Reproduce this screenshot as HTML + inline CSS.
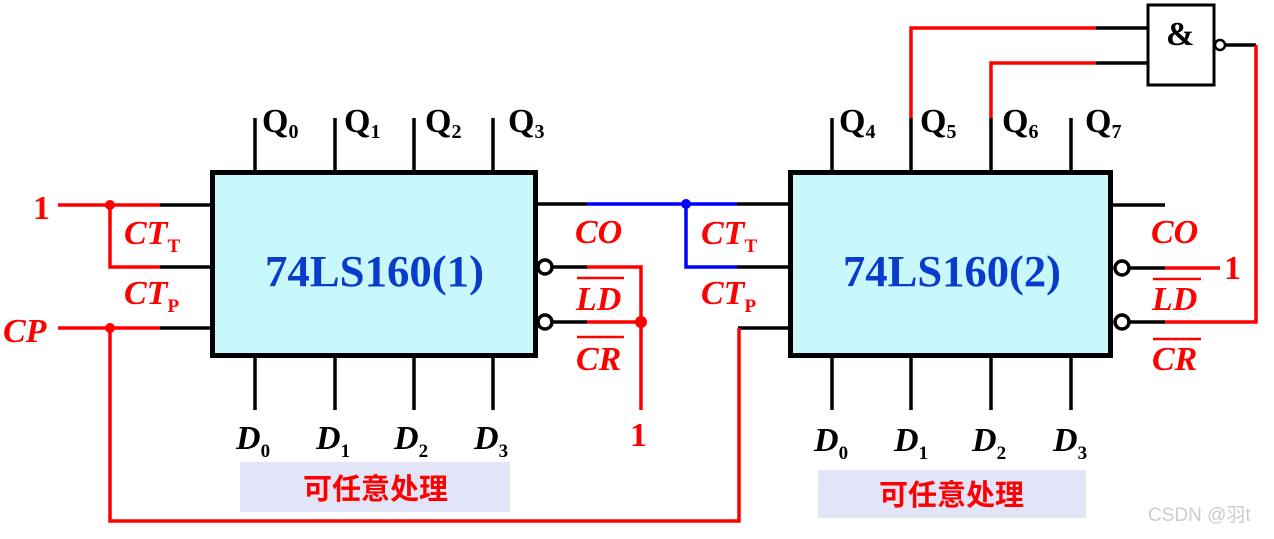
<!DOCTYPE html>
<html><head><meta charset="utf-8"><style>
body{margin:0;background:#fff;width:1274px;height:534px;overflow:hidden}
svg text{font-family:"Liberation Serif",serif;font-weight:bold}
</style></head><body>
<svg width="1274" height="534" viewBox="0 0 1274 534" xmlns="http://www.w3.org/2000/svg">
<g stroke-width="3.5" fill="none">
<g stroke="#000">
<line x1="255" y1="118" x2="255" y2="170"/><line x1="335" y1="118" x2="335" y2="170"/><line x1="414" y1="118" x2="414" y2="170"/><line x1="493" y1="118" x2="493" y2="170"/>
<line x1="255" y1="357" x2="255" y2="410"/><line x1="335" y1="357" x2="335" y2="410"/><line x1="414" y1="357" x2="414" y2="410"/><line x1="493" y1="357" x2="493" y2="410"/>
<line x1="160" y1="205" x2="210" y2="205"/><line x1="160" y1="267" x2="210" y2="267"/><line x1="160" y1="328" x2="210" y2="328"/>
<line x1="537" y1="204" x2="587" y2="204"/><line x1="552" y1="267" x2="587" y2="267"/><line x1="552" y1="322" x2="587" y2="322"/>
<line x1="832" y1="118" x2="832" y2="170"/><line x1="1071" y1="118" x2="1071" y2="170"/>
<line x1="911" y1="118" x2="911" y2="170"/><line x1="991" y1="118" x2="991" y2="170"/>
<line x1="832" y1="357" x2="832" y2="410"/><line x1="911" y1="357" x2="911" y2="410"/><line x1="991" y1="357" x2="991" y2="410"/><line x1="1071" y1="357" x2="1071" y2="410"/>
<line x1="737" y1="204" x2="788" y2="204"/><line x1="737" y1="267" x2="788" y2="267"/><polyline points="738,328 788,328"/>
<line x1="1112" y1="205" x2="1165" y2="205"/><line x1="1129" y1="268" x2="1165" y2="268"/><line x1="1129" y1="322" x2="1165" y2="322"/>
<line x1="1096" y1="28" x2="1148" y2="28"/><line x1="1096" y1="63" x2="1148" y2="63"/><line x1="1226" y1="45" x2="1256" y2="45"/>
</g>
<g stroke="#f00">
<line x1="58" y1="205" x2="160" y2="205"/><polyline points="110,205 110,267 160,267"/>
<line x1="58" y1="328" x2="160" y2="328"/><polyline points="110,328 110,521 739,521 739,328"/>
<polyline points="587,267 641,267 641,410"/><line x1="587" y1="322" x2="641" y2="322"/>
<polyline points="911,118 911,28 1096,28"/><polyline points="991,118 991,63 1096,63"/>
<polyline points="1256,45 1256,322 1165,322"/><line x1="1165" y1="268" x2="1220" y2="268"/>
</g>
<g stroke="#00f"><line x1="587" y1="204" x2="737" y2="204"/><polyline points="686,204 686,267 737,267"/></g>
<rect x="212.5" y="172.5" width="323" height="183" fill="#c8f8fc" stroke="#000" stroke-width="5"/>
<rect x="790.5" y="172.5" width="320" height="183" fill="#c8f8fc" stroke="#000" stroke-width="5"/>
<rect x="1148" y="5" width="66" height="80" fill="#fff" stroke="#000" stroke-width="3"/>
<circle cx="545" cy="267" r="7" fill="#fff" stroke="#000"/><circle cx="545" cy="322" r="7" fill="#fff" stroke="#000"/>
<circle cx="1122" cy="268" r="7" fill="#fff" stroke="#000"/><circle cx="1122" cy="322" r="7" fill="#fff" stroke="#000"/>
<circle cx="1220" cy="45" r="5" fill="#fff" stroke="#000" stroke-width="2.5"/>
</g>
<circle cx="110" cy="205" r="5" fill="#f00"/><circle cx="110" cy="328" r="5" fill="#f00"/><circle cx="641" cy="322" r="6" fill="#f00"/><circle cx="686" cy="204" r="5" fill="#00f"/>
<rect x="240" y="462" width="270" height="50" fill="#e2e4f8"/>
<rect x="818" y="470" width="268" height="48" fill="#e2e4f8"/>
<g font-size="34" fill="#000">
<text x="262" y="132">Q<tspan font-size="20" dy="6">0</tspan></text>
<text x="344" y="132">Q<tspan font-size="20" dy="6">1</tspan></text>
<text x="425" y="132">Q<tspan font-size="20" dy="6">2</tspan></text>
<text x="508" y="132">Q<tspan font-size="20" dy="6">3</tspan></text>
<text x="839" y="132">Q<tspan font-size="20" dy="6">4</tspan></text>
<text x="920" y="132">Q<tspan font-size="20" dy="6">5</tspan></text>
<text x="1002" y="132">Q<tspan font-size="20" dy="6">6</tspan></text>
<text x="1085" y="132">Q<tspan font-size="20" dy="6">7</tspan></text>
<text x="1166" y="45" font-size="34">&amp;</text>
</g>
<g font-size="34" fill="#000" font-style="italic">
<text x="236" y="449">D<tspan font-size="19" font-style="normal" dy="8">0</tspan></text>
<text x="316" y="449">D<tspan font-size="19" font-style="normal" dy="8">1</tspan></text>
<text x="394" y="449">D<tspan font-size="19" font-style="normal" dy="8">2</tspan></text>
<text x="474" y="449">D<tspan font-size="19" font-style="normal" dy="8">3</tspan></text>
<text x="814" y="451">D<tspan font-size="19" font-style="normal" dy="8">0</tspan></text>
<text x="894" y="451">D<tspan font-size="19" font-style="normal" dy="8">1</tspan></text>
<text x="972" y="451">D<tspan font-size="19" font-style="normal" dy="8">2</tspan></text>
<text x="1053" y="451">D<tspan font-size="19" font-style="normal" dy="8">3</tspan></text>
</g>
<g fill="#0a3ccc" font-size="44"><text x="265" y="286" textLength="219" lengthAdjust="spacingAndGlyphs">74LS160(1)</text><text x="843" y="286" textLength="218" lengthAdjust="spacingAndGlyphs">74LS160(2)</text></g>
<g fill="#f00" font-size="34" font-style="italic">
<text x="124" y="244">CT<tspan font-size="19" font-style="normal" dy="8">T</tspan></text>
<text x="124" y="304">CT<tspan font-size="19" font-style="normal" dy="8">P</tspan></text>
<text x="701" y="244">CT<tspan font-size="19" font-style="normal" dy="8">T</tspan></text>
<text x="701" y="304">CT<tspan font-size="19" font-style="normal" dy="8">P</tspan></text>
<text x="3" y="342">CP</text>
<text x="575" y="243">CO</text><text x="576" y="310">LD</text><text x="576" y="370">CR</text>
<text x="1151" y="243">CO</text><text x="1152" y="310">LD</text><text x="1152" y="370">CR</text>
<text x="33" y="219" font-style="normal">1</text>
<text x="630" y="446" font-style="normal">1</text>
<text x="1224" y="279" font-style="normal">1</text>
</g>
<g stroke="#f00" stroke-width="2.5">
<line x1="577" y1="278" x2="624" y2="278"/><line x1="577" y1="337" x2="624" y2="337"/>
<line x1="1153" y1="279" x2="1201" y2="279"/><line x1="1153" y1="339" x2="1201" y2="339"/>
</g>
<g fill="#f00" font-size="29"><text x="303" y="499" style="font-family:'Liberation Sans','Noto Sans CJK SC',sans-serif">可任意处理</text><text x="879" y="505" style="font-family:'Liberation Sans','Noto Sans CJK SC',sans-serif">可任意处理</text></g>
<text x="1148" y="521" font-size="19" fill="#ccc" style="font-family:'Liberation Sans','Noto Sans CJK SC',sans-serif;font-weight:normal">CSDN @羽t</text>
</svg>
</body></html>
